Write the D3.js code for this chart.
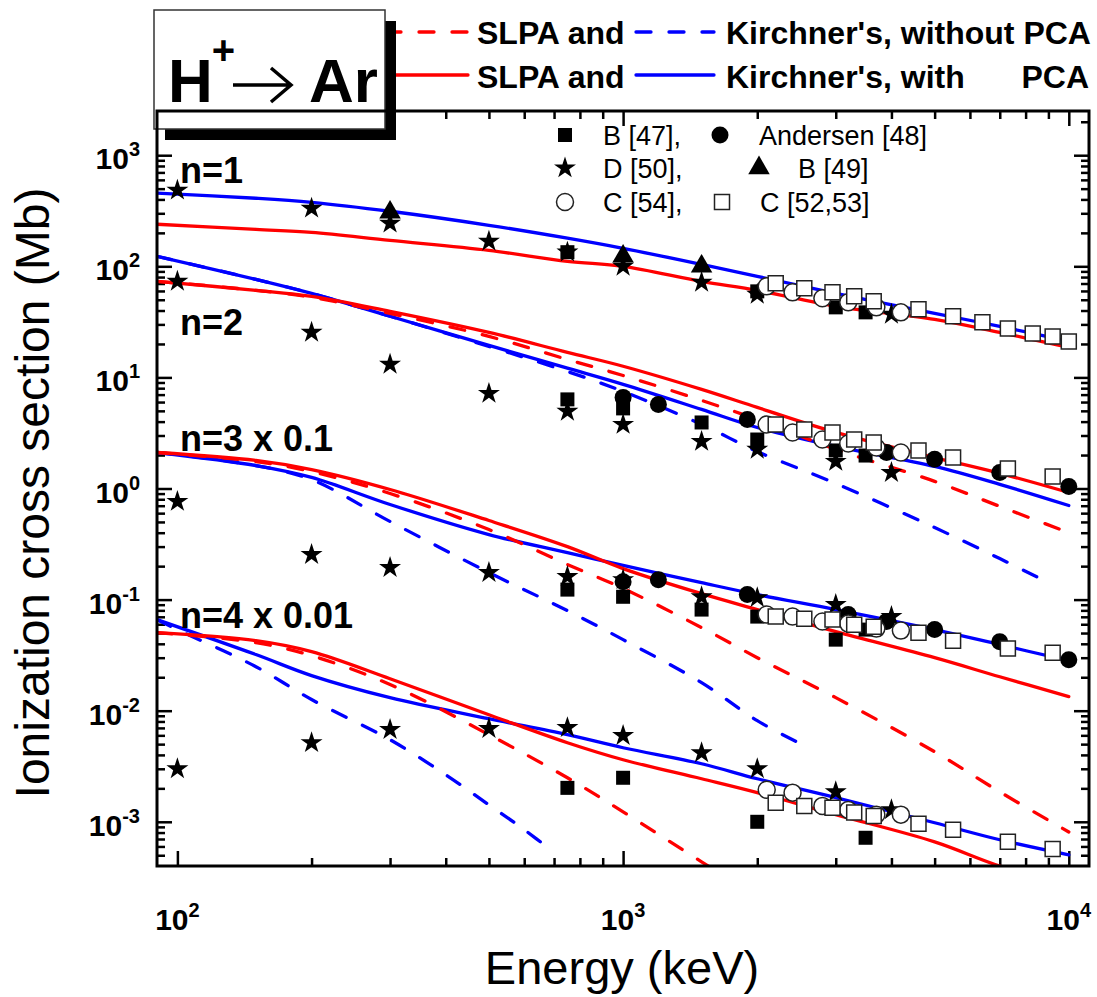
<!DOCTYPE html>
<meta charset="utf-8">
<title>H+ to Ar ionization</title>
<style>
  body { margin: 0; background: #fff; }
  svg text { font-family: "Liberation Sans", Arial, Helvetica, sans-serif; }
</style>
<div id="viz"></div>
<script src="https://cdnjs.cloudflare.com/ajax/libs/d3/7.8.5/d3.min.js"></script>
<script>

// energies (keV) shared by most theory curves
var energyGrid = [90, 150, 200, 300, 500, 750, 1000, 1500, 2000, 3000, 5000, 7000, 10000];

// theory curves, cross sections in Mb (n=3 already x0.1, n=4 x0.01)
var n1KirchnerPCA = [455, 410, 377, 313, 234, 179, 145, 104, 81.3, 57.1, 37.7, 28.8, 21.1];
var n1SlpaPCA     = [239, 215, 202, 171, 139, 111, 100, 73.2, 60.8, 43.6, 33.3, 25.4, 18.6];

var n2KirchnerPCA = [123, 76.3, 57.1, 35.5, 19.4, 12.1, 8.65, 5.15, 3.54, 2.39, 1.58, 1.09, 0.703];
var n2SlpaPCA     = [73.2, 60.8, 53.7, 39.3, 25.4, 16.8, 12.6, 7.80, 5.37, 3.20, 1.90, 1.37, 0.92];
var n2SlpaNoPCA   = [73.2, 60.8, 52.6, 37.7, 23.4, 14.5, 10.4, 6.21, 4.18, 2.25, 1.16, 0.69, 0.40];
var n2KirchnerNoPCAE = [90, 150, 200, 300, 500, 750, 1000, 1500, 2000, 3000, 5000, 7000, 9000];
var n2KirchnerNoPCA  = [123, 76.3, 57.1, 35.5, 19.0, 11.3, 7.48, 3.77, 2.15, 1.11, 0.445, 0.234, 0.142];

var n3KirchnerPCA = [2.11, 1.61, 1.26, 0.718, 0.385, 0.265, 0.203, 0.142, 0.111, 0.0813, 0.0537, 0.0393, 0.0282];
var n3SlpaPCA     = [2.11, 1.79, 1.48, 0.98, 0.515, 0.300, 0.190, 0.113, 0.0813, 0.0515, 0.030, 0.0202, 0.0134];
var n3SlpaNoPCA   = [2.11, 1.75, 1.42, 0.902, 0.427, 0.207, 0.126, 0.056, 0.030, 0.0131, 0.00427, 0.00186, 0.00081];
var n3KirchnerNoPCAE = [90, 150, 200, 300, 500, 750, 1000, 1500, 2000, 2500];
var n3KirchnerNoPCA  = [2.11, 1.61, 1.20, 0.505, 0.175, 0.0796, 0.0436, 0.0179, 0.00813, 0.00505];

var n4KirchnerPCA = [0.066, 0.032, 0.0207, 0.0131, 0.00847, 0.00608, 0.00464, 0.00333, 0.00244, 0.00165, 0.00098, 0.000689, 0.000504];
var n4SlpaPCA     = [0.0504, 0.0427, 0.034, 0.0194, 0.0092, 0.00515, 0.00362, 0.00244, 0.00183, 0.00116, 0.00066, 0.00040, 0.00027];
var n4SlpaNoPCAE = [90, 150, 200, 300, 500, 750, 1000, 1500, 2000];
var n4SlpaNoPCA  = [0.0504, 0.041, 0.0313, 0.0172, 0.00608, 0.00249, 0.00123, 0.000436, 0.000211];
var n4KirchnerNoPCAE = [90, 100, 150, 200, 300, 400, 500, 600, 700];
var n4KirchnerNoPCA  = [0.066, 0.0537, 0.0249, 0.0126, 0.00548, 0.00265, 0.00142, 0.00085, 0.00053];

// experiments
var starE = [100, 200, 300, 500, 750, 1000, 1500, 2000, 3000, 4000];   // D [50]
var starN1 = [484, 333, 244, 168, 134, 100, 71.7, 55.9, null, 36.9];
var starN2 = [73.2, 25.4, 13.1, 7.17, 4.94, 3.77, 2.65, 2.25, 1.75, 1.39];
var starN3 = [0.764, 0.254, 0.194, 0.175, 0.161, 0.151, 0.106, 0.104, 0.090, 0.0703];
var starN4 = [0.0030, 0.00515, 0.00675, 0.00689, 0.00703, 0.00596, 0.00418, 0.0030, 0.00186, 0.00128];

var fSquareE = [750, 1000, 1500, 2000, 3000, 3500];   // B [47]
var fSquareN1 = [134, null, null, 59.5, 42.7, 38.5];
var fSquareN2 = [6.34, 5.26, 3.93, 2.76, 2.20, 1.98];
var fSquareN3 = [0.123, 0.106, 0.0813, 0.0703, 0.0436, 0.0537];
var fSquareN4 = [0.00202, 0.00249, null, 0.0010, null, 0.000718];

var andersenE = [1000, 1200, 1900, 3200, 3900, 5000, 7000, 10000];   // Andersen [48]
var andersenN2 = [6.61, 5.71, 4.18, null, 2.11, 1.83, 1.39, 1.04];
var andersenN3 = [0.145, 0.151, 0.111, 0.0733, 0.0634, 0.0537, 0.0418, 0.0288];

var triangleE = [300, 1000, 1500];   // B [49]
var triangleN1 = [306, 123, 100];

var oCircleE = [2100, 2400, 2800, 3200, 3700, 4200];   // C [54]
var oCircleN1 = [66.0, 58.3, 51.5, 47.4, 42.7, 38.5];
var oCircleN2 = [3.77, 3.19, 2.76, 2.54, 2.34, 2.11];
var oCircleN3 = [0.0733, 0.0703, 0.0634, 0.0608, 0.0548, 0.0526];
var oCircleN4 = [0.00194, 0.00183, 0.00139, 0.00128, 0.00116, 0.00116];

var oSquareE = [2200, 2550, 2950, 3300, 3650, 4600, 5500, 6400, 7300, 8300, 9200, 10000];   // C [52,53]
var oSquareN1 = [70.3, 63.4, 58.3, 53.7, 48.4, 41.0, 35.5, 31.3, 27.6, 24.9, 23.4, 21.1];
var oSquareN2 = [3.77, 3.40, 3.19, 2.76, 2.60, 2.20, 1.90, null, 1.51, null, 1.28, null];
var oSquareN3 = [0.0703, 0.0674, 0.0661, 0.0595, 0.0571, 0.0504, 0.0427, null, 0.0362, null, 0.0333, null];
var oSquareN4 = [0.00148, 0.00139, 0.00134, 0.00121, 0.00113, 0.00096, 0.00085, null, 0.00066, null, 0.00057, null];

var xDecades = [2, 3, 4];
var yDecades = [-3, -2, -1, 0, 1, 2, 3];
var panelLabels = ["n=1", "n=2", "n=3 x 0.1", "n=4 x 0.01"];

var RED = "#ff0000", BLUE = "#0000ff";

var width = 1097, height = 997;
var L = 157, R = 1089, T = 111, B = 866;

var svg = d3.select("#viz").append("svg")
  .attr("width", width)
  .attr("height", height);

var x = d3.scaleLog().domain([90, 11100]).range([L, R]);
var y = d3.scaleLog().domain([4e-4, 2500]).range([B, T]);

svg.append("clipPath").attr("id", "plotclip")
  .append("rect").attr("x", L).attr("y", T).attr("width", R - L).attr("height", B - T);

// ---- ticks
function minors(lo, hi) {
  var out = [];
  for (var d = Math.floor(Math.log10(lo)); d <= Math.ceil(Math.log10(hi)); d++) {
    for (var m = 2; m <= 9; m++) {
      var v = m * Math.pow(10, d);
      if (v > lo && v < hi) out.push(v);
    }
  }
  return out;
}
var xMajor = xDecades.map(function(d) { return Math.pow(10, d); });
var yMajor = yDecades.map(function(d) { return Math.pow(10, d); });
var xMinor = minors(90, 11100);
var yMinor = minors(4e-4, 2500);

function tickAxis(axis, tr) {
  var g = svg.append("g").attr("transform", tr).call(axis);
  g.select(".domain").remove();
  g.selectAll("line").attr("stroke", "#000").attr("stroke-width", 2.5);
  g.selectAll("text").remove();
}
[[xMajor, 15], [xMinor, 8]].forEach(function(t) {
  tickAxis(d3.axisBottom(x).tickValues(t[0]).tickSize(-t[1]).tickSizeOuter(0), "translate(0," + B + ")");
  tickAxis(d3.axisTop(x).tickValues(t[0]).tickSize(-t[1]).tickSizeOuter(0), "translate(0," + T + ")");
});
[[yMajor, 15], [yMinor, 8]].forEach(function(t) {
  tickAxis(d3.axisLeft(y).tickValues(t[0]).tickSize(-t[1]).tickSizeOuter(0), "translate(" + L + ",0)");
  tickAxis(d3.axisRight(y).tickValues(t[0]).tickSize(-t[1]).tickSizeOuter(0), "translate(" + R + ",0)");
});

// tick labels
function powText(g, exp) {
  g.append("tspan").text("10");
  g.append("tspan").attr("dy", -13).attr("font-size", 20).text(exp);
}
xDecades.forEach(function(d) {
  var t = svg.append("text")
    .attr("x", x(Math.pow(10, d)))
    .attr("y", 930)
    .attr("text-anchor", "middle")
    .attr("font-size", 30).attr("font-weight", "bold");
  powText(t, d);
});
yDecades.forEach(function(d) {
  var t = svg.append("text")
    .attr("x", 140)
    .attr("y", y(Math.pow(10, d)) + 14)
    .attr("text-anchor", "end")
    .attr("font-size", 30).attr("font-weight", "bold");
  powText(t, d);
});

// axis titles
svg.append("text")
  .attr("x", 622)
  .attr("y", 984)
  .attr("text-anchor", "middle")
  .attr("font-size", 47)
  .text("Energy (keV)");
svg.append("text")
  .attr("transform", "translate(49,493) rotate(-90)")
  .attr("text-anchor", "middle")
  .attr("font-size", 48)
  .text("Ionization cross section (Mb)");

// ---- theory curves
var line = d3.line()
  .x(function(d) { return x(d[0]); })
  .y(function(d) { return y(d[1]); })
  .curve(d3.curveCatmullRom.alpha(0.5));

function pairs(e, v) { return e.map(function(k, i) { return [k, v[i]]; }); }

var curves = [
  {e: energyGrid, v: n1KirchnerPCA, c: BLUE, dash: false},
  {e: energyGrid, v: n2KirchnerPCA, c: BLUE, dash: false},
  {e: energyGrid, v: n3KirchnerPCA, c: BLUE, dash: false},
  {e: energyGrid, v: n4KirchnerPCA, c: BLUE, dash: false},
  {e: n2KirchnerNoPCAE, v: n2KirchnerNoPCA, c: BLUE, dash: true},
  {e: n3KirchnerNoPCAE, v: n3KirchnerNoPCA, c: BLUE, dash: true},
  {e: n4KirchnerNoPCAE, v: n4KirchnerNoPCA, c: BLUE, dash: true},
  {e: energyGrid, v: n1SlpaPCA, c: RED, dash: false},
  {e: energyGrid, v: n2SlpaPCA, c: RED, dash: false},
  {e: energyGrid, v: n3SlpaPCA, c: RED, dash: false},
  {e: energyGrid, v: n4SlpaPCA, c: RED, dash: false},
  {e: energyGrid, v: n2SlpaNoPCA, c: RED, dash: true},
  {e: energyGrid, v: n3SlpaNoPCA, c: RED, dash: true},
  {e: n4SlpaNoPCAE, v: n4SlpaNoPCA, c: RED, dash: true}
];

var cg = svg.append("g").attr("clip-path", "url(#plotclip)");
cg.selectAll("path.curve")
  .data(curves)
  .enter().append("path")
  .attr("class", "curve")
  .attr("d", function(d) { return line(pairs(d.e, d.v)); })
  .attr("fill", "none")
  .attr("stroke", function(d) { return d.c; })
  .attr("stroke-width", 3.3)
  .attr("stroke-linecap", "round")
  .attr("stroke-dasharray", function(d) { return d.dash ? "15,18" : null; });

// ---- experimental points
var symStyle = {
  B47: {type: d3.symbolSquare,   size: 196, fill: "#000", stroke: "none"},
  A48: {type: d3.symbolCircle,   size: 227, fill: "#000", stroke: "none"},
  D50: {type: d3.symbolStar,     size: 150, fill: "#000", stroke: "none"},
  B49: {type: d3.symbolTriangle, size: 200, fill: "#000", stroke: "none"},
  C54: {type: d3.symbolCircle,   size: 227, fill: "#fff", stroke: "#222"},
  C52: {type: d3.symbolSquare,   size: 225, fill: "#fff", stroke: "#222"}
};

var pointSets = [
  ["B47", fSquareE, [fSquareN1, fSquareN2, fSquareN3, fSquareN4]],
  ["A48", andersenE, [andersenN2, andersenN3]],
  ["D50", starE, [starN1, starN2, starN3, starN4]],
  ["B49", triangleE, [triangleN1]],
  ["C54", oCircleE, [oCircleN1, oCircleN2, oCircleN3, oCircleN4]],
  ["C52", oSquareE, [oSquareN1, oSquareN2, oSquareN3, oSquareN4]]
];

function drawSym(g, key, px, py) {
  var s = symStyle[key];
  g.append("path")
    .attr("d", d3.symbol().type(s.type).size(s.size)())
    .attr("transform", "translate(" + px + "," + py + ")")
    .attr("fill", s.fill)
    .attr("stroke", s.stroke)
    .attr("stroke-width", 1.5);
}

var pg = svg.append("g");
pointSets.forEach(function(ps) {
  ps[2].forEach(function(vals) {
    pairs(ps[1], vals).forEach(function(p) {
      if (p[1] == null) return;
      drawSym(pg, ps[0], x(p[0]), y(p[1]));
    });
  });
});

// ---- panel labels
var panelY = [183, 335, 451, 628];
panelLabels.forEach(function(t, i) {
  svg.append("text")
    .attr("x", 180).attr("y", panelY[i])
    .attr("font-size", 36).attr("font-weight", "bold")
    .text(t);
});

// ---- symbol legend inside the frame
var symLegend = [
  {k: "B47", sx: 565, tx: 603, row: 0, t: "B [47],"},
  {k: "A48", sx: 720, tx: 759, row: 0, t: "Andersen [48]"},
  {k: "D50", sx: 565, tx: 603, row: 1, t: "D [50],"},
  {k: "B49", sx: 759, tx: 798, row: 1, t: "B [49]"},
  {k: "C54", sx: 565, tx: 603, row: 2, t: "C [54],"},
  {k: "C52", sx: 722, tx: 760, row: 2, t: "C [52,53]"}
];
var rowY = [135, 168, 202];
symLegend.forEach(function(d) {
  drawSym(svg, d.k, d.sx, rowY[d.row]);
  svg.append("text")
    .attr("x", d.tx).attr("y", rowY[d.row] + 10)
    .attr("font-size", 27)
    .text(d.t);
});

// ---- line legend above the frame
var lineLegend = [
  {x1: 386, x2: 468, yy: 32, c: RED, dash: true},
  {x1: 396, x2: 468, yy: 75, c: RED, dash: false},
  {x1: 636, x2: 714, yy: 32, c: BLUE, dash: true},
  {x1: 636, x2: 714, yy: 75, c: BLUE, dash: false}
];
lineLegend.forEach(function(d) {
  svg.append("line")
    .attr("x1", d.x1).attr("x2", d.x2).attr("y1", d.yy).attr("y2", d.yy)
    .attr("stroke", d.c).attr("stroke-width", 3.3)
    .attr("stroke-linecap", "round")
    .attr("stroke-dasharray", d.dash ? "15,18" : null);
});
function boldText(tx, ty, s, anchor) {
  svg.append("text").attr("x", tx).attr("y", ty)
    .attr("font-size", 32).attr("font-weight", "bold")
    .attr("text-anchor", anchor || "start")
    .text(s);
}
boldText(477, 44, "SLPA and");
boldText(477, 88, "SLPA and");
boldText(726, 44, "Kirchner's, without PCA");
boldText(726, 88, "Kirchner's, with");
boldText(1089, 88, "PCA", "end");

// title box with shadow
svg.append("rect").attr("x", 165).attr("y", 21).attr("width", 231).attr("height", 119).attr("fill", "#000");
svg.append("rect").attr("x", 154).attr("y", 10).attr("width", 231).attr("height", 119)
  .attr("fill", "#fff").attr("stroke", "#333").attr("stroke-width", 1.5);
var ht = svg.append("text").attr("x", 168).attr("y", 102)
  .attr("font-size", 62).attr("font-weight", "bold");
ht.append("tspan").text("H");
ht.append("tspan").attr("dy", -38).attr("dx", -1).attr("font-size", 40).text("+");
svg.append("path")
  .attr("d", "M233,85 L290,85 M271,68 L291,85 L271,102")
  .attr("fill", "none").attr("stroke", "#000").attr("stroke-width", 3.5);
svg.append("text").attr("x", 309).attr("y", 102)
  .attr("font-size", 62).attr("font-weight", "bold").text("Ar");

// frame
svg.append("rect")
  .attr("x", L).attr("y", T).attr("width", R - L).attr("height", B - T)
  .attr("fill", "none").attr("stroke", "#000").attr("stroke-width", 3);

</script>
